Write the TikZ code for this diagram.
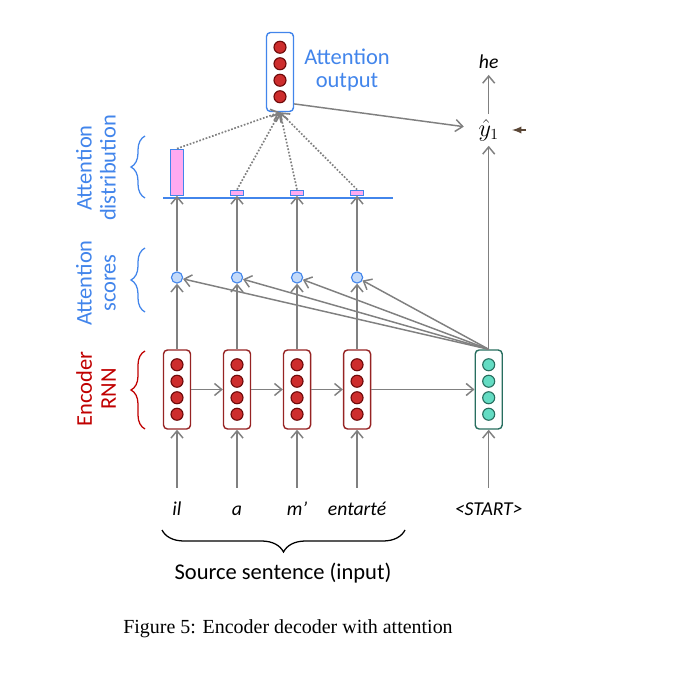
\documentclass[tikz,border=0pt]{standalone}
\usepackage{fontspec}
\setmainfont{Carlito}
\newfontfamily\capfont{Liberation Serif}
\usepackage{tikz}
\usetikzlibrary{calc}
\usetikzlibrary{arrows.meta}
\usetikzlibrary{positioning}
\usetikzlibrary{decorations.pathreplacing}
\definecolor{attblue}{RGB}{66,133,235}
\definecolor{encred}{RGB}{192,0,0}
\definecolor{encborder}{RGB}{150,35,35}
\definecolor{encdark}{RGB}{110,10,10}
\definecolor{encfill}{RGB}{205,45,45}
\definecolor{decborder}{RGB}{40,110,95}
\definecolor{decfill}{RGB}{100,220,195}
\definecolor{scorefill}{RGB}{195,218,250}
\definecolor{barpink}{RGB}{255,170,240}
\definecolor{arrgray}{RGB}{128,128,128}
\definecolor{brownarr}{RGB}{90,70,54}
\tikzset{%
  myedge/.style={->, >={Straight Barb[length=1.8mm, width=3mm]}, draw=arrgray, line width=1.05pt},
  dotedge/.style={myedge, dash pattern=on 1.2pt off 1.2pt, line width=1.2pt},
  encbox/.style={draw=encborder, rounded corners=0.1cm, line width=1pt, fill=white,
    minimum width=0.675cm, minimum height=1.975cm},
  decbox/.style={encbox, draw=decborder},
  attbox/.style={encbox, draw=attblue},
  encdot/.style={circle, draw=encdark, fill=encfill, minimum size=0.3cm, inner sep=0pt, line width=0.8pt},
  decdot/.style={encdot, draw=decborder, fill=decfill},
  score/.style={circle, draw=attblue, fill=scorefill, minimum size=0.28cm, inner sep=0pt, line width=0.8pt},
  bar/.style={draw=attblue, fill=barpink, minimum width=0.325cm, inner sep=0pt, line width=0.8pt},
  word/.style={font=\fontsize{14}{16}\selectfont\itshape, text height=1.6ex, text depth=0.3ex, inner ysep=12pt},
  lbl/.style={font=\fontsize{16}{17}\selectfont, align=center},
  mybrace/.style={decorate, decoration={brace, amplitude=0.35cm}, line width=0.9pt}
}
\begin{document}
\begin{tikzpicture}[x=0.025cm, y=-0.025cm]
  \useasboundingbox (0,0) rectangle (685,676);
  % encoder and decoder
  \node[encbox] (e1) at (177,389.5) {};
  \node[encbox, right=0.79cm of e1] (e2) {};
  \node[encbox, right=0.79cm of e2] (e3) {};
  \node[encbox, right=0.79cm of e3] (e4) {};
  \node[decbox, right=2.58cm of e4] (d0) {};
  \node[attbox] (a0) at (280,72) {};
  \foreach \k in {-1.5,-0.5,0.5,1.5} {
    \foreach \n in {e1,e2,e3,e4,a0} \node[encdot] at ($(\n)+(0,16.5*\k)$) {};
    \node[decdot] at ($(d0)+(0,16.5*\k)$) {};
  }
  % inputs
  \node[word, below=1.45cm of e1] (w1) {il};
  \node[word, below=1.45cm of e2] (w2) {a};
  \node[word, below=1.45cm of e3] (w3) {m’};
  \node[word, below=1.45cm of e4] (w4) {entarté};
  \node[word, below=1.45cm of d0] (w0) {<START>};
  % scores and distribution
  \node[score, above=1.64cm of e1] (s1) {};
  \node[score, above=1.64cm of e2] (s2) {};
  \node[score, above=1.64cm of e3] (s3) {};
  \node[score, above=1.64cm of e4] (s4) {};
  \node[bar, minimum height=1.15cm, above=1.89cm of s1] (b1) {};
  \node[bar, minimum height=0.125cm, above=1.89cm of s2] (b2) {};
  \node[bar, minimum height=0.125cm, above=1.89cm of s3] (b3) {};
  \node[bar, minimum height=0.125cm, above=1.89cm of s4] (b4) {};
  \draw[attblue, line width=1pt] (163,198) -- (393,198);
  % output side
  \node[font=\fontsize{16}{18}\selectfont] (y1) at (d0 |- 0,130) {$\hat{y}_1$};
  \node[word, inner ysep=3pt] (he) at (d0 |- 0,64) {he};
  \coordinate (p1) at (526,130);
  \coordinate (p2) at (512,130);
  % labels
  \node[lbl, text=attblue] (lo) at (347,70) {Attention\\output};
  \node[lbl, text=attblue, rotate=90] (ld) at (96,168) {Attention\\distribution};
  \node[lbl, text=attblue, rotate=90] (ls) at (96,283) {Attention\\scores};
  \node[lbl, text=encred, rotate=90] (le) at (96,389) {Encoder\\RNN};
  \node[lbl] (src) at (283,573) {Source sentence (input)};
  \node[font=\capfont\fontsize{14.2}{16}\selectfont] (cap) at (288,629) {Figure 5: Encoder decoder with attention};
  % braces
  \draw[mybrace, attblue] (145,198) -- (145,136);
  \draw[mybrace, attblue] (145,312) -- (145,248);
  \draw[mybrace, encred] (145,429) -- (145,351);
  \draw[mybrace, black, decoration={amplitude=0.55cm}] (405,530) -- (162,530);
  % edges
  \foreach \i in {1,...,4} {
    \draw[myedge] (w\i) -- (e\i);
    \draw[myedge] (e\i) -- (s\i);
    \draw[myedge] (s\i) -- (b\i.south);
    \draw[myedge] (d0.north) -- (s\i);
    \draw[dotedge] (b\i.north) -- (a0.south);
  }
  \draw[myedge] (e1) -- (e2);
  \draw[myedge] (e2) -- (e3);
  \draw[myedge] (e3) -- (e4);
  \draw[myedge] (e4) -- (d0);
  \draw[myedge] (w0) -- (d0);
  \draw[myedge] (d0) -- (y1);
  \draw[myedge] (y1) -- (he);
  \draw[myedge, shorten >=0.25cm] (a0.-66) -- (y1);
  \draw[-latex, brownarr, line width=1.3pt] (p1) -- (p2);
\end{tikzpicture}
\end{document}
